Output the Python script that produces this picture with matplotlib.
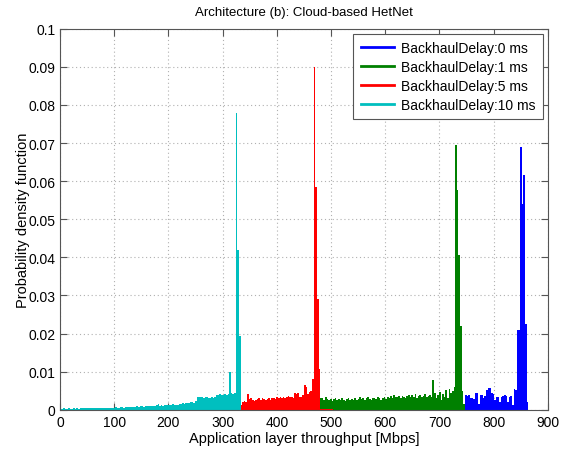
#!/usr/bin/env python3
"""Throughput PDF per backhaul delay, architecture (b)."""

import matplotlib

matplotlib.use("Agg")
import matplotlib.pyplot as plt
import numpy as np
from matplotlib.lines import Line2D

BIN_W = 3.0

labels = ["BackhaulDelay:0 ms", "BackhaulDelay:1 ms", "BackhaulDelay:5 ms", "BackhaulDelay:10 ms"]
colors = ["#0000ff", "#008000", "#ff0000", "#00bfbf"]

# first bin edge of each series (Mbps)
start_0ms = 747
start_1ms = 477
start_5ms = 330
start_10ms = 0

pdf_0ms = [
    0.0040, 0.0036, 0.0040, 0.0032, 0.0030, 0.0028, 0.0045, 0.0044, 0.0015, 0.0040,
    0.0038, 0.0032, 0.0036, 0.0052, 0.0057, 0.0058, 0.0045, 0.0042, 0.0025, 0.0035,
    0.0033, 0.0020, 0.0035, 0.0036, 0.0038, 0.0037, 0.0020, 0.0035, 0.0036, 0.0012,
    0.0055, 0.0052, 0.0210, 0.0210, 0.0690, 0.0540, 0.0615, 0.0225, 0.0020,
]

pdf_1ms = [
    # 477-537
    0.0022, 0.0030, 0.0032, 0.0026, 0.0034, 0.0028, 0.0026, 0.0029, 0.0024, 0.0028,
    0.0030, 0.0026, 0.0029, 0.0025, 0.0031, 0.0027, 0.0024, 0.0028, 0.0030, 0.0026,
    0.0029,
    # 540-600
    0.0027, 0.0031, 0.0025, 0.0029, 0.0033, 0.0028, 0.0030, 0.0026, 0.0031, 0.0034,
    0.0029, 0.0027, 0.0032, 0.0030, 0.0028, 0.0033, 0.0031, 0.0027, 0.0030, 0.0034,
    0.0029,
    # 603-639
    0.0035, 0.0031, 0.0036, 0.0030, 0.0038, 0.0033, 0.0035, 0.0037, 0.0032, 0.0036,
    0.0034, 0.0030, 0.0036,
    # 642-684
    0.0040, 0.0033, 0.0038, 0.0035, 0.0042, 0.0031, 0.0036, 0.0039, 0.0034, 0.0037,
    0.0041, 0.0033, 0.0036, 0.0038, 0.0035,
    # 687-744
    0.0078, 0.0045, 0.0030, 0.0040, 0.0048, 0.0025, 0.0042, 0.0035, 0.0051, 0.0030,
    0.0054, 0.0045, 0.0050, 0.0060, 0.0695, 0.0576, 0.0405, 0.0220, 0.0050, 0.0015,
]

pdf_5ms = [
    # 330-345
    0.0010, 0.0012, 0.0020, 0.0022, 0.0020, 0.0042,
    # 348-399
    0.0028, 0.0030, 0.0025, 0.0023, 0.0026, 0.0029, 0.0030, 0.0027, 0.0031, 0.0028,
    0.0025, 0.0029, 0.0032, 0.0027, 0.0030, 0.0031, 0.0028, 0.0033,
    # 402-429
    0.0030, 0.0034, 0.0031, 0.0035, 0.0032, 0.0034, 0.0036, 0.0033, 0.0035, 0.0031,
    # 432-477
    0.0045, 0.0042, 0.0045, 0.0035, 0.0033, 0.0040, 0.0065, 0.0060, 0.0042, 0.0048,
    0.0050, 0.0080, 0.0900, 0.0585, 0.0290, 0.0108,
    # 480-501
    0.0003, 0.0003, 0.0003, 0.0003, 0.0003, 0.0003, 0.0003, 0.0003,
]

pdf_10ms = [
    # 0-33
    0.0003, 0.0003, 0.0004, 0.0003, 0.0003, 0.0004, 0.0003, 0.0003, 0.0004, 0.0003,
    0.0004, 0.0003,
    # 36-96
    0.0004, 0.0005, 0.0004, 0.0004, 0.0005, 0.0004, 0.0005, 0.0005, 0.0004, 0.0005,
    0.0005, 0.0004, 0.0005, 0.0005, 0.0006, 0.0005, 0.0005, 0.0006, 0.0005, 0.0006,
    0.0005,
    # 99-132
    0.0006, 0.0007, 0.0006, 0.0006, 0.0007, 0.0007, 0.0006, 0.0007, 0.0008, 0.0007,
    0.0007, 0.0008,
    # 135-162
    0.0008, 0.0008, 0.0009, 0.0008, 0.0009, 0.0009, 0.0008, 0.0010, 0.0009, 0.0010,
    # 165-192
    0.0010, 0.0011, 0.0010, 0.0011, 0.0012, 0.0015, 0.0011, 0.0012, 0.0011, 0.0012,
    # 195-219
    0.0013, 0.0012, 0.0014, 0.0013, 0.0015, 0.0013, 0.0014, 0.0014, 0.0016,
    # 222-249
    0.0016, 0.0017, 0.0016, 0.0018, 0.0019, 0.0018, 0.0020, 0.0021, 0.0019, 0.0022,
    # 252-285
    0.0035, 0.0034, 0.0033, 0.0035, 0.0030, 0.0033, 0.0033, 0.0030, 0.0032, 0.0035,
    0.0031, 0.0033,
    # 288-309
    0.0040, 0.0038, 0.0042, 0.0040, 0.0039, 0.0041, 0.0040, 0.0042,
    # 312-330
    0.0100, 0.0045, 0.0042, 0.0045, 0.0780, 0.0420, 0.0195,
]

x_ticks = [0, 100, 200, 300, 400, 500, 600, 700, 800, 900]
y_ticks = [0, 0.01, 0.02, 0.03, 0.04, 0.05, 0.06, 0.07, 0.08, 0.09, 0.1]
y_tick_labels = ["0", "0.01", "0.02", "0.03", "0.04", "0.05", "0.06", "0.07", "0.08", "0.09", "0.1"]


def edges_for(start, values):
    return start + BIN_W * np.arange(len(values) + 1)


def main():
    plt.rcParams["font.family"] = ["Liberation Sans", "DejaVu Sans"]
    fig = plt.figure(figsize=(5.66, 4.56), dpi=100)
    ax = fig.add_axes([0.106, 0.099, 0.862, 0.836])

    series = [
        (start_0ms, pdf_0ms),
        (start_1ms, pdf_1ms),
        (start_5ms, pdf_5ms),
        (start_10ms, pdf_10ms),
    ]
    for (start, vals), col in zip(series, colors):
        ax.stairs(vals, edges_for(start, vals), fill=True, color=col, linewidth=0)

    ax.set_xlim(0, 900)
    ax.set_ylim(0, 0.1)
    ax.set_xticks(x_ticks)
    ax.set_yticks(y_ticks)
    ax.set_yticklabels(y_tick_labels)
    ax.tick_params(direction="in", top=True, right=True, labelsize=10, length=5, color="#555555")
    ax.grid(True, linestyle=(0, (1, 2.5)), color="#b0b0b0", linewidth=0.8)
    ax.set_axisbelow(True)
    for sp in ax.spines.values():
        sp.set_color("#555555")

    ax.set_xlabel("Application layer throughput [Mbps]", fontsize=10.5, labelpad=2)
    ax.set_ylabel("Probability density function", fontsize=10.5)
    ax.yaxis.set_label_coords(-0.062, 0.5)
    ax.set_title("Architecture (b): Cloud-based HetNet", fontsize=9.5, pad=10)

    handles = [Line2D([], [], color=c, linewidth=2) for c in colors]
    leg = ax.legend(handles, labels, loc="upper right", fontsize=10, fancybox=False,
                    framealpha=1, edgecolor="#555555", handlelength=2.4,
                    handletextpad=0.5, borderpad=0.55, borderaxespad=0.35,
                    labelspacing=0.35)
    leg.get_frame().set_linewidth(0.8)

    fig.savefig("out.png", dpi=100)
    plt.close(fig)


if __name__ == "__main__":
    main()
